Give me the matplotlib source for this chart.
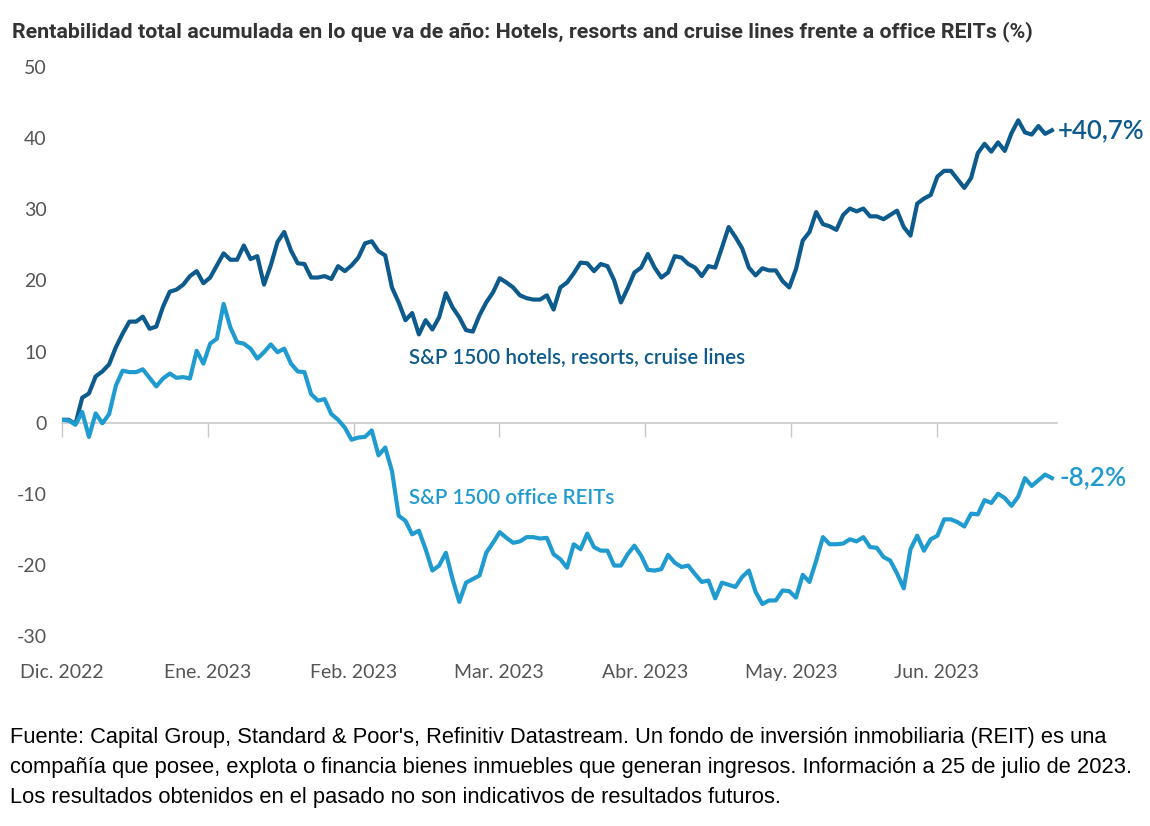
import numpy as np
import matplotlib
matplotlib.use("Agg")
import matplotlib.pyplot as plt

# ---------------- data ----------------
month_labels = ["Dic. 2022", "Ene. 2023", "Feb. 2023", "Mar. 2023",
                "Abr. 2023", "May. 2023", "Jun. 2023"]
end_months = 6.79  # 25 July 2023, in months since 30 Dec 2022

hotels = [
    0.4, 0.4, -0.2, 3.5, 4.1, 6.5, 7.2, 8.2, 10.6, 12.5, 14.2, 14.2, 14.9, 13.2, 13.5,
    16.3, 18.4, 18.7, 19.4, 20.6, 21.3, 19.6, 20.4, 22.1, 23.8, 22.9, 22.9, 24.9, 23.0,
    23.4, 19.4, 22.1, 25.4, 26.8, 24.2, 22.4, 22.3,
    20.4, 20.4, 20.6, 20.2, 22.0, 21.3, 22.1, 23.2, 25.2, 25.5, 24.1, 23.5, 19.0, 16.9,
    14.4, 15.4, 12.4, 14.4, 13.1, 14.8, 18.2, 16.2, 14.8, 13.0, 12.8, 15.1, 16.9, 18.3,
    20.3, 19.7, 19.0, 17.9, 17.5, 17.3, 17.3, 17.9,
    15.9, 19.0, 19.7, 21.0, 22.5, 22.4, 21.3, 22.3, 22.0, 20.0, 16.9, 18.9, 21.1, 21.8,
    23.7, 21.8, 20.4, 21.1, 23.4, 23.2, 22.3, 21.8, 20.6, 22.0, 21.8, 24.6, 27.5, 26.1,
    24.5, 21.8, 20.7, 21.7, 21.4, 21.4, 19.9, 19.0, 21.6,
    25.6, 26.8, 29.6, 27.9, 27.6, 27.1, 29.2, 30.1, 29.7, 30.1, 29.0, 29.0, 28.6, 29.2,
    29.8, 27.5, 26.3, 30.8, 31.5, 32.0, 34.6, 35.4, 35.4, 34.2, 33.0, 34.4, 37.9, 39.2,
    38.1, 39.4, 38.2, 40.7, 42.5, 40.8, 40.5, 41.7, 40.6, 41.1,
]

office = [
    0.4, 0.3, -0.3, 1.5, -2.0, 1.3, -0.1, 1.2, 5.2, 7.3, 7.1, 7.1, 7.5, 6.3, 5.1, 6.2,
    6.9, 6.3, 6.4, 6.2, 10.1, 8.3, 11.1, 11.8, 16.7, 13.4, 11.3, 11.1, 10.4, 9.0, 9.9,
    11.0, 9.9, 10.4, 8.3, 7.2, 7.1,
    4.0, 3.1, 3.3, 1.2, 0.4, -0.7, -2.4, -2.1, -2.0, -1.1, -4.6, -3.5, -6.8, -13.1,
    -13.8, -15.7, -15.2, -17.8, -20.8, -20.1, -18.3, -22.0, -25.2, -22.5, -22.0, -21.5,
    -18.3, -16.9, -15.4, -16.2, -16.9, -16.7, -16.1, -16.1, -16.3, -16.2,
    -18.5, -19.2, -20.4, -17.1, -17.8, -15.6, -17.5, -18.0, -18.0, -20.1, -20.1, -18.5,
    -17.3, -18.7, -20.7, -20.8, -20.6, -18.6, -19.7,
    -20.3, -20.1, -21.3, -22.4, -22.2, -24.7, -22.5, -22.8, -23.1, -21.7, -20.8, -23.8,
    -25.5, -25.0, -25.0, -23.6, -23.7, -24.6,
    -21.4, -22.4, -19.4, -16.1, -17.1, -17.1, -17.0, -16.4, -16.7, -16.1, -17.5, -17.6,
    -18.9, -19.4, -21.2, -23.3, -17.8, -15.9, -18.0, -16.4, -15.9, -13.6, -13.6, -14.0,
    -14.6, -12.8, -12.9, -10.9, -11.3, -10.0, -10.6, -11.7, -10.4, -7.8, -8.9, -8.1,
    -7.3, -7.8,
]

hotels_label = "S&P 1500 hotels, resorts, cruise lines"
office_label = "S&P 1500 office REITs"
hotels_end = "+40,7%"
office_end = "-8,2%"
y_ticks = [50, 40, 30, 20, 10, 0, -10, -20, -30]

title = ("Rentabilidad total acumulada en lo que va de año: Hotels, resorts and "
         "cruise lines frente a office REITs (%)")
footer = [
    "Fuente: Capital Group, Standard & Poor's, Refinitiv Datastream. Un fondo de inversión inmobiliaria (REIT) es una",
    "compañía que posee, explota o financia bienes inmuebles que generan ingresos. Información a 25 de julio de 2023.",
    "Los resultados obtenidos en el pasado no son indicativos de resultados futuros.",
]

# ---------------- styling ----------------
DARK = "#0d5a8c"
LIGHT = "#1f9bd0"
GREY_TXT = "#555555"

plt.rcParams["font.family"] = ["Lato", "DejaVu Sans"]

W, H = 1150, 826
fig = plt.figure(figsize=(W / 100, H / 100), dpi=100)
fig.patch.set_facecolor("white")

ax = fig.add_axes([62 / W, 1 - 636 / H, (1057 - 62) / W, (636 - 67) / H])

x_h = np.linspace(0, end_months, len(hotels))
x_o = np.linspace(0, end_months, len(office))

ax.plot(x_h, hotels, color=DARK, lw=3.0, solid_joinstyle="round", zorder=3)
ax.plot(x_o, office, color=LIGHT, lw=3.0, solid_joinstyle="round", zorder=3)

ax.set_xlim(0, 6.825)
ax.set_ylim(-30, 50)

for s in ["top", "right", "left"]:
    ax.spines[s].set_visible(False)
ax.spines["bottom"].set_position(("data", 0))
ax.spines["bottom"].set_color("#c8c8c8")
ax.spines["bottom"].set_linewidth(1.2)

ax.set_xticks(range(len(month_labels)))
ax.tick_params(axis="x", direction="out", length=10, width=1, color="#c8c8c8",
               labelbottom=False)

ax.set_yticks(y_ticks)
ax.set_yticklabels([str(v) for v in y_ticks])
ax.tick_params(axis="y", length=0, pad=11, labelsize=14, labelcolor=GREY_TXT)

sec = ax.secondary_xaxis("bottom")
sec.set_xticks(range(len(month_labels)))
sec.set_xticklabels(month_labels)
sec.tick_params(axis="x", length=0, pad=20, labelsize=14, labelcolor=GREY_TXT)
sec.spines["bottom"].set_visible(False)

# series labels
ax.text(2.38, 9.2, hotels_label, color=DARK, fontsize=14.8, fontweight="semibold",
        ha="left", va="center")
ax.text(2.38, -10.6, office_label, color=LIGHT, fontsize=14.8, fontweight="semibold",
        ha="left", va="center")
ax.annotate(hotels_end, xy=(x_h[-1], hotels[-1]), xytext=(4.5, 0),
            textcoords="offset points", color=DARK, fontsize=18.5,
            fontweight="semibold", ha="left", va="center", annotation_clip=False)
ax.annotate(office_end, xy=(x_o[-1], office[-1]), xytext=(5.5, 0),
            textcoords="offset points", color=LIGHT, fontsize=18.8,
            fontweight="semibold", ha="left", va="center", annotation_clip=False)

# title
fig.text(12 / W, 1 - 32 / H, title, fontsize=15.4, fontweight="bold",
         color="#333333", ha="left", va="center", family=["Roboto", "DejaVu Sans"])

# footer
for i, line in enumerate(footer):
    fig.text(10 / W, 1 - (737 + 30.5 * i) / H, line, fontsize=15.75, color="black",
             ha="left", va="center", family=["Liberation Sans", "DejaVu Sans"])

fig.savefig("out.png", dpi=100, facecolor="white")
